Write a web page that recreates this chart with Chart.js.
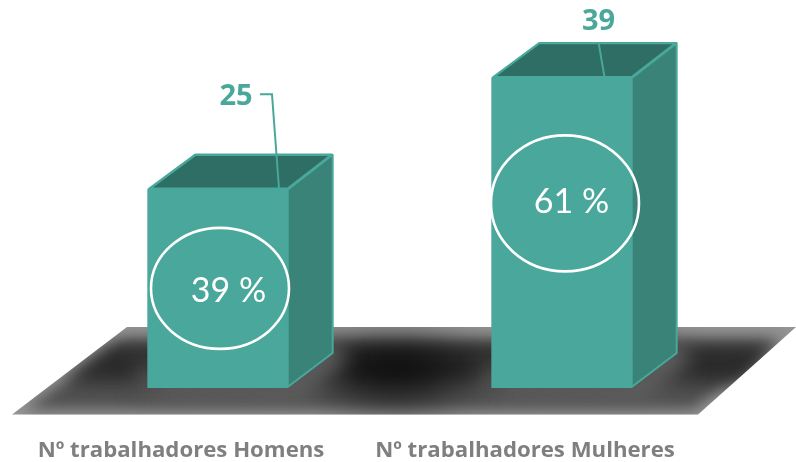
<!DOCTYPE html>
<html><head><meta charset="utf-8">
<style>html,body{margin:0;padding:0;background:#fff}#wrap{width:796px;height:462px;position:relative}canvas{display:block}</style>
<script src="https://cdn.jsdelivr.net/npm/chart.js@4/dist/chart.umd.min.js"></script>
</head><body><div id="wrap"><canvas id="c" width="796" height="462"></canvas></div>
<script>
const categories = ["Nº trabalhadores Homens", "Nº trabalhadores Mulheres"];
const workers = [25, 39];
const shares = ["39 %", "61 %"];

const TEAL = "#4aa79b", SIDE = "#3a8378", TOP = "#2f6e64";
const DX = 45, DY = 35;

function poly(ctx, pts){ ctx.beginPath(); pts.forEach((p,i)=> i?ctx.lineTo(p[0],p[1]):ctx.moveTo(p[0],p[1])); ctx.closePath(); }

const scene = {
  id: "scene",
  beforeDatasetsDraw(chart){
    const ctx = chart.ctx, y0 = chart.scales.y.getPixelForValue(0);
    const metas = chart.getDatasetMeta(0).data;
    // floor
    const T = y0-61, B = y0+26.5;
    const floor = [[127,T],[796,T],[698,B],[12,B]];
    ctx.save();
    poly(ctx, floor); ctx.fillStyle = "#949494"; ctx.fill(); ctx.clip();
    ctx.filter = "blur(7px)";
    poly(ctx, [[122,T+13],[782,T+13],[694,B-5],[24,B-5]]); ctx.fillStyle = "#515151"; ctx.fill();
    ctx.filter = "blur(9px)";
    poly(ctx, [[112,T+18],[775,T+18],[742,B-32],[64,B-32]]); ctx.fillStyle = "#2a2a2a"; ctx.fill();
    ctx.filter = "blur(24px)";
    ctx.beginPath(); ctx.ellipse(395,T+46,62,20,0,0,Math.PI*2); ctx.fillStyle = "#000"; ctx.fill();
    ctx.filter = "blur(11px)";
    metas.forEach(b=>{
      const r = b.x+b.width/2, l = b.x-b.width/2;
      poly(ctx, [[r+DX,y0-DY-16],[r+DX+14,y0-DY+8],[r+14,y0+8],[l+6,y0+6],[l+6,y0-10],[r,y0-10]]);
      ctx.fillStyle = "#666"; ctx.fill();
      poly(ctx, [[l-8,y0-26],[l+8,y0-26],[l+8,y0+6],[l-8,y0+6]]);
      ctx.fillStyle = "#565656"; ctx.fill();
    });
    ctx.restore();
    // side and top faces
    metas.forEach(b=>{
      const l=b.x-b.width/2, r=b.x+b.width/2, t=b.y;
      ctx.save(); ctx.lineJoin="round"; ctx.strokeStyle=TEAL; ctx.lineWidth=2;
      poly(ctx, [[r,t+1],[r+DX,t-DY+1],[r+DX,y0-DY],[r,y0-1]]); ctx.fillStyle=SIDE; ctx.fill(); ctx.stroke();
      poly(ctx, [[l+2,t],[l+DX+3,t-DY+1],[r+DX-1,t-DY+1],[r,t]]); ctx.fillStyle=TOP; ctx.fill();
      ctx.lineWidth=2.4; ctx.stroke();
      ctx.restore();
    });
  },
  afterDatasetsDraw(chart){
    const ctx = chart.ctx;
    const metas = chart.getDatasetMeta(0).data;
    const rings = [[2.5,-1,69,60.5],[3.5,0,74,68]];
    const ringY = [0.5,0.406];
    const textDX = [11,10];
    metas.forEach((b,i)=>{
      const t=b.y, h=b.base-b.y, cx=b.x+rings[i][0], cy=t+h*ringY[i];
      ctx.save();
      // leader line
      ctx.strokeStyle=TEAL; ctx.lineWidth=2; ctx.beginPath();
      if(i===0){ ctx.moveTo(260,t-94.5); ctx.lineTo(272,t-94.5); ctx.lineTo(279,t); }
      else { ctx.moveTo(b.x+37,t-35); ctx.lineTo(b.x+43,t); }
      ctx.stroke();
      // ring
      ctx.strokeStyle="#fff"; ctx.lineWidth=2.6; ctx.beginPath();
      ctx.ellipse(cx,cy,rings[i][2],rings[i][3],0,0,Math.PI*2); ctx.stroke();
      // share
      ctx.fillStyle="#fff"; ctx.font='34px Lato'; ctx.textAlign="center"; ctx.textBaseline="middle";
      ctx.fillText(shares[i], b.x+textDX[i], cy+ (i===0?3:-1));
      // value
      ctx.fillStyle=TEAL; ctx.font='bold 29px "Open Sans"';
      const lx = i===0 ? b.x+18.5 : b.x+37;
      const ly = i===0 ? t-92 : t-55;
      ctx.fillText(String(workers[i]), lx, ly);
      ctx.restore();
    });
  }
};

new Chart(document.getElementById("c"), {
  type: "bar",
  data: { labels: categories, datasets: [{ data: workers, backgroundColor: TEAL, borderWidth: 0, barPercentage: 0.408, categoryPercentage: 1 }] },
  plugins: [scene],
  options: {
    responsive: false, animation: false,
    layout: { padding: { left: 45.5, right: 62.5, top: 0, bottom: 0 } },
    plugins: { legend: { display: false }, tooltip: { enabled: false } },
    scales: {
      x: { grid: { display: false }, border: { display: false },
           afterFit(s){ s.height = 74; },
           ticks: { color: "#7f7f7f", font: { family: "Open Sans", weight: "bold", size: 22.2 }, padding: 41, labelOffset: -36.5, maxRotation: 0, autoSkip: false } },
      y: { display: false, min: 0, max: 48.68 }
    }
  }
});
</script></body></html>
